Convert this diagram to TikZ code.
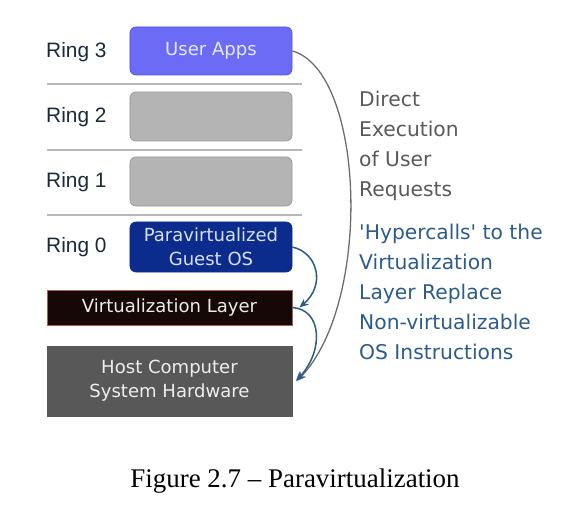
\documentclass[tikz,border=0pt]{standalone}
\usepackage{fontspec}
\setmainfont{DejaVu Sans}
\newfontfamily\ringfont{Liberation Sans}
\newfontfamily\capfont{Liberation Serif}
\usepackage{xcolor}
\usepackage{tikz}
\usetikzlibrary{arrows.meta,positioning}

\definecolor{appblue}{HTML}{6B6BF5}
\definecolor{appedge}{HTML}{5151E0}
\definecolor{emptygray}{HTML}{B4B4B4}
\definecolor{emptyedge}{HTML}{959595}
\definecolor{guestnavy}{HTML}{0B2C8C}
\definecolor{layerdark}{HTML}{160806}
\definecolor{layeredge}{HTML}{A86050}
\definecolor{hostgray}{HTML}{585858}
\definecolor{ringtext}{HTML}{1B2A3A}
\definecolor{notegray}{HTML}{595959}
\definecolor{noteblue}{HTML}{2C5C8A}
\definecolor{sepgray}{HTML}{B8B8B8}

\tikzset{
  ringbox/.style={draw, line width=0.6pt, rounded corners=5pt, minimum width=4.86cm, inner sep=0pt, align=center,
    font=\fontsize{15.4}{20.5}\selectfont},
  layerbox/.style={draw, line width=0.6pt, minimum width=7.35cm, inner sep=0pt, align=center,
    font=\fontsize{15.4}{20.5}\selectfont},
  ringlabel/.style={anchor=west, inner sep=0pt, text=ringtext, font=\ringfont\fontsize{17.8}{20}\selectfont},
  note/.style={anchor=west, inner sep=0pt, align=left, font=\fontsize{17.3}{25.6}\selectfont},
  separator/.style={draw=sepgray, line width=1.6pt},
  hop/.style={-{Stealth[length=8pt,width=6.5pt]}, line width=1.3pt, draw=noteblue},
}

\begin{document}
\begin{tikzpicture}[x=0.03cm, y=-0.03cm]

		\useasboundingbox (0,0) rectangle (571,514);

		\node[ringbox, fill=appblue, draw=appedge, minimum height=1.44cm, text=white!85!appblue] (ua) at (211,51) {User Apps};

		\node[ringbox, fill=emptygray, draw=emptyedge, minimum height=1.47cm] (r2) at (211,116.5) {};

		\node[ringbox, fill=emptygray, draw=emptyedge, minimum height=1.47cm] (r1) at (211,181.5) {};

		\node[ringbox, fill=guestnavy, draw=guestnavy, minimum height=1.5cm, text=white!85!guestnavy] (guest) at (211,247) {Paravirtualized\\Guest OS};

		\node[layerbox, fill=layerdark, draw=layeredge, minimum height=1.05cm, text=white!92!layerdark] (virt) at (169.5,307.5) {Virtualization Layer};

		\node[layerbox, fill=hostgray, draw=hostgray, minimum height=2.1cm, text=white!90!hostgray] (host) at (169.5,381) {Host Computer\\System Hardware};

		\node[ringlabel] (l3) at (46,52) {Ring 3};

		\node[ringlabel] (l2) at (46,117) {Ring 2};

		\node[ringlabel] (l1) at (46,182) {Ring 1};

		\node[ringlabel] (l0) at (46,247) {Ring 0};

		\node[note, text=notegray] (direct) at (359,146) {Direct\\Execution\\of User\\Requests};

		\node[note, text=noteblue] (hyper) at (359,292) {\textquotesingle Hypercalls\textquotesingle{} to the\\Virtualization\\Layer Replace\\Non-virtualizable\\OS Instructions};

		\node[font=\capfont\fontsize{23}{26}\selectfont, inner sep=0pt] (caption) at (295,481) {Figure 2.7 – Paravirtualization};

		\coordinate (s3a) at (47,84); \coordinate (s3b) at (302,84);
		\coordinate (s2a) at (47,150); \coordinate (s2b) at (302,150);
		\coordinate (s1a) at (47,215); \coordinate (s1b) at (302,215);

		\draw[separator] (s3a) -- (s3b)
		(s2a) -- (s2b)
		(s1a) -- (s1b);

		\draw[-{Stealth[length=8pt,width=6.5pt]}, line width=1.1pt, draw=gray!85!black] (ua.east) .. controls +(72,20) and +(76,-80) .. ([xshift=4]host.east);

		\draw[hop] (guest.east) .. controls +(26,6) and +(26,-22) .. ([xshift=6]virt.east);
		\draw[hop] (virt.east) .. controls +(30,2) and +(28,-30) .. ([xshift=3]host.east);

	\end{tikzpicture}
\end{document}
